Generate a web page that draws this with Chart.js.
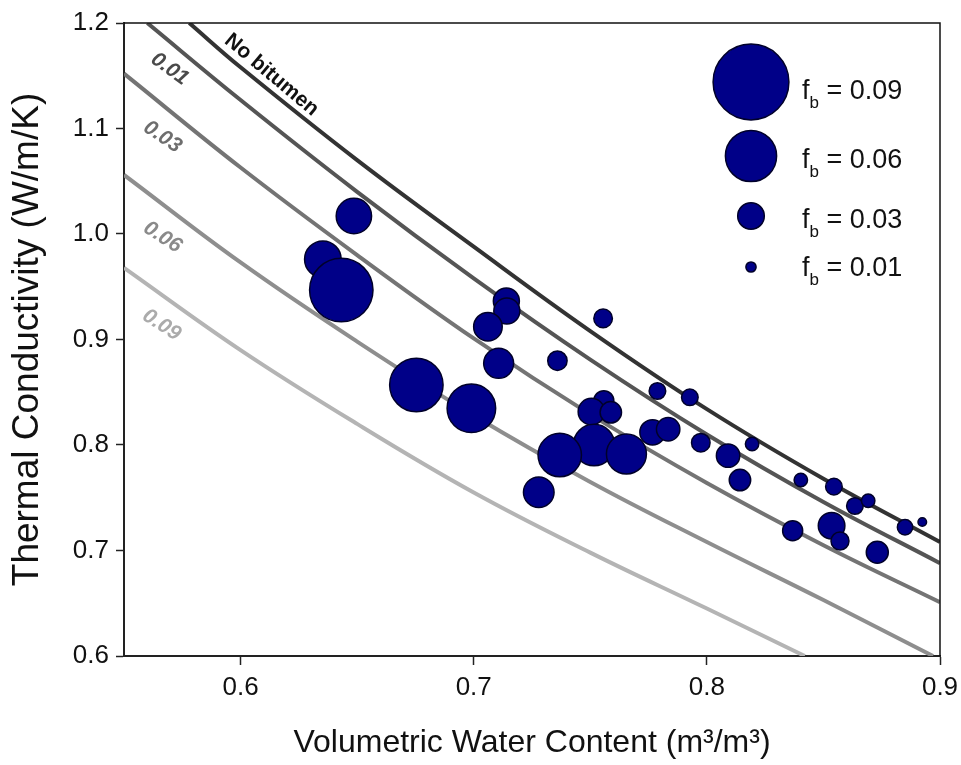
<!DOCTYPE html>
<html>
<head>
<meta charset="utf-8">
<script src="https://cdn.jsdelivr.net/npm/chart.js@4.4.0/dist/chart.umd.min.js"></script>
<style>
html,body{margin:0;padding:0;background:#fff}
</style>
</head>
<body>
<canvas id="c" width="961" height="765"></canvas>
<script>
// axis ticks
const xTicks = [0.6, 0.7, 0.8, 0.9]
const yTicks = [0.6, 0.7, 0.8, 0.9, 1.0, 1.1, 1.2]

// model curves (water content -> thermal conductivity)
const wcNoBit = [0.578, 0.6, 0.65, 0.7, 0.75, 0.8, 0.85, 0.9]
const kNoBit  = [1.2, 1.158, 1.070, 0.988, 0.908, 0.834, 0.768, 0.708]
const wc01 = [0.56, 0.6, 0.65, 0.7, 0.75, 0.8, 0.85, 0.9]
const k01  = [1.2, 1.127, 1.040, 0.958, 0.881, 0.810, 0.746, 0.688]
const wc03 = [0.55, 0.6, 0.65, 0.7, 0.75, 0.8, 0.85, 0.9]
const k03  = [1.152, 1.063, 0.98, 0.901, 0.829, 0.764, 0.705, 0.651]
const wc06 = [0.55, 0.6, 0.65, 0.7, 0.75, 0.8, 0.85, 0.897]
const k06  = [1.056, 0.973, 0.898, 0.828, 0.765, 0.708, 0.653, 0.6]
const wc09 = [0.55, 0.6, 0.65, 0.7, 0.75, 0.8, 0.842]
const k09  = [0.968, 0.890, 0.820, 0.755, 0.698, 0.645, 0.6]

// measured samples: water content, conductivity, bitumen fraction
const sampleWc = [0.6486, 0.6353, 0.6432, 0.7140, 0.7142, 0.7061, 0.7107, 0.6754, 0.6990,
  0.7555, 0.7359, 0.7788, 0.7558, 0.7505, 0.7588, 0.7516, 0.7369, 0.7655, 0.7279, 0.7767,
  0.7834, 0.7927, 0.7974, 0.8091, 0.8142, 0.8194, 0.8403, 0.8545, 0.8635, 0.8692, 0.8368,
  0.8535, 0.8571, 0.8731, 0.885, 0.8924]
const sampleK = [1.0171, 0.976, 0.9469, 0.9364, 0.927, 0.9121, 0.8774, 0.8569, 0.8348,
  0.92, 0.8799, 0.8512, 0.842, 0.8316, 0.831, 0.80, 0.7905, 0.7915, 0.7552, 0.812,
  0.8149, 0.8452, 0.8022, 0.7899, 0.7668, 0.8009, 0.7668, 0.7605, 0.7422, 0.7472, 0.7188,
  0.7235, 0.709, 0.6983, 0.722, 0.727]
const sampleFb = [0.0407, 0.0422, 0.0749, 0.0293, 0.0293, 0.0324, 0.0341, 0.0627, 0.0568,
  0.0202, 0.0212, 0.0178, 0.022, 0.030, 0.0237, 0.048, 0.0505, 0.0463, 0.0349, 0.0285,
  0.0261, 0.0178, 0.0202, 0.0261, 0.0237, 0.0139, 0.0139, 0.0178, 0.0178, 0.0139, 0.022,
  0.030, 0.0195, 0.0244, 0.0163, 0.008]

const legendFb = [0.09, 0.06, 0.03, 0.01]

const F = "'Liberation Sans', Arial, sans-serif"
const radius = fb => 1 + 410 * fb

function curve(wc, k, color){
  return {type:'line', data: wc.map((x,i)=>({x, y:k[i]})), borderColor:color, borderWidth:4,
    pointRadius:0, fill:false, tension:0.4, clip:0, order:2}
}

const curveLabels = [
  {text:'No bitumen', x:0.6133, y:1.1507, rot:40, color:'#111', font:'bold 21px '+F},
  {text:'0.01', x:0.5696, y:1.1564, rot:36, color:'#4a4a4a', font:'italic bold 21px '+F},
  {text:'0.03', x:0.5665, y:1.092, rot:34, color:'#6e6e6e', font:'italic bold 21px '+F},
  {text:'0.06', x:0.5665, y:0.997, rot:33, color:'#8a8a8a', font:'italic bold 21px '+F},
  {text:'0.09', x:0.5661, y:0.9137, rot:33, color:'#ababab', font:'italic bold 21px '+F}
]

const extras = {
  id:'extras',
  afterDatasetsDraw(chart){
    const {ctx, chartArea:a, scales:{x, y}} = chart
    ctx.save()
    // frame top + right
    ctx.strokeStyle = '#111'; ctx.lineWidth = 1.5
    ctx.beginPath(); ctx.moveTo(a.left, a.top); ctx.lineTo(a.right, a.top); ctx.lineTo(a.right, a.bottom); ctx.stroke()

    // labels along curves
    ctx.textAlign = 'center'; ctx.textBaseline = 'middle'
    curveLabels.forEach(l=>{
      ctx.save()
      ctx.translate(x.getPixelForValue(l.x), y.getPixelForValue(l.y))
      ctx.rotate(l.rot*Math.PI/180)
      ctx.font = l.font; ctx.fillStyle = l.color
      ctx.fillText(l.text, 0, 0)
      ctx.restore()
    })

    // size key
    const cx = a.right - 189
    const rowY = [59, 133, 193, 244]
    const txtDy = [10, 5, 5, 2]
    legendFb.forEach((fb,i)=>{
      const cy = a.top + rowY[i]
      ctx.beginPath(); ctx.arc(cx, cy, radius(fb), 0, Math.PI*2)
      ctx.fillStyle = '#000088'; ctx.fill()
      ctx.lineWidth = 1.5; ctx.strokeStyle = '#00002a'; ctx.stroke()
      const ty = cy + txtDy[i]
      let tx = a.right - 138
      ctx.fillStyle = '#111'; ctx.textAlign = 'left'; ctx.textBaseline = 'middle'
      ctx.font = '27px '+F
      ctx.fillText('f', tx, ty)
      tx += ctx.measureText('f').width
      ctx.font = '17px '+F
      ctx.fillText('b', tx, ty + 11)
      tx += ctx.measureText('b').width
      ctx.font = '27px '+F
      ctx.fillText(' = ' + fb.toFixed(2), tx, ty)
    })
    ctx.restore()
  }
}

new Chart(document.getElementById('c'), {
  type:'bubble',
  data:{
    datasets:[
      curve(wcNoBit, kNoBit, '#333333'),
      curve(wc01, k01, '#555555'),
      curve(wc03, k03, '#747474'),
      curve(wc06, k06, '#8e8e8e'),
      curve(wc09, k09, '#b4b4b4'),
      {type:'bubble', data: sampleWc.map((x,i)=>({x, y:sampleK[i], r:radius(sampleFb[i])})),
        backgroundColor:'#000088', borderColor:'#00002a', borderWidth:1.5, order:1}
    ]
  },
  options:{
    responsive:false,
    animation:false,
    layout:{autoPadding:false, padding:{top:23, right:21, left:0, bottom:0}},
    plugins:{legend:{display:false}, tooltip:{enabled:false}},
    scales:{
      x:{type:'linear', min:0.55, max:0.9,
        afterBuildTicks: s=>{ s.ticks = xTicks.map(v=>({value:v})) },
        afterFit: s=>{ s.height = 109; s.paddingLeft = 0; s.paddingRight = 0 },
        grid:{display:true, drawOnChartArea:false, tickLength:9, tickColor:'#222', tickWidth:1.5},
        border:{display:true, color:'#222', width:2},
        ticks:{font:{size:26, family:F}, color:'#111', padding:7, maxRotation:0, autoSkip:false,
          callback: v=>Number(v).toFixed(1)},
        title:{display:true, text:'Volumetric Water Content (m³/m³)', font:{size:32, family:F}, color:'#111',
          padding:{top:0, bottom:3}}
      },
      y:{type:'linear', min:0.6, max:1.2,
        afterBuildTicks: s=>{ s.ticks = yTicks.map(v=>({value:v})) },
        afterFit: s=>{ s.width = 124; s.paddingTop = 0; s.paddingBottom = 0 },
        grid:{display:true, drawOnChartArea:false, tickLength:8, tickColor:'#222', tickWidth:1.5},
        border:{display:true, color:'#222', width:2},
        ticks:{font:{size:26, family:F}, color:'#111', padding:7,
          callback: v=>Number(v).toFixed(1)},
        title:{display:true, text:'Thermal Conductivity (W/m/K)', font:{size:37, family:F}, color:'#111',
          padding:{top:6, bottom:0}}
      }
    }
  },
  plugins:[extras]
})
</script>
</body>
</html>
